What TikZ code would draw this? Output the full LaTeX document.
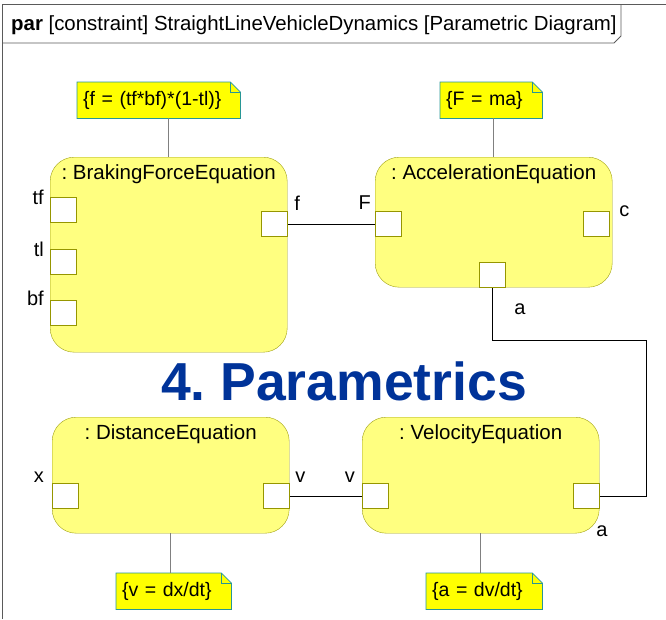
\documentclass[tikz,border=0pt]{standalone}
\usepackage{fontspec}
\setmainfont{Liberation Sans}
\usetikzlibrary{calc}
\frenchspacing
\definecolor{blockfill}{RGB}{255,255,128}
\definecolor{blockdraw}{RGB}{160,160,20}
\definecolor{portdraw}{RGB}{150,150,0}
\definecolor{notefill}{RGB}{255,255,0}
\definecolor{notedraw}{RGB}{40,150,150}
\definecolor{titleblue}{RGB}{0,51,153}
\definecolor{framegray}{RGB}{90,90,90}
\tikzset{
  block/.style = {draw = blockdraw, fill = blockfill, rounded corners = 24pt, anchor = north west, inner sep = 0, minimum width = 237pt},
  blocktitle/.style = {font = \fontsize{20.5}{22}\selectfont, inner sep = 0},
  port/.style = {draw = portdraw, line width = 1.2pt, fill = white, anchor = north west, inner sep = 0, minimum width = 26pt, minimum height = 25pt},
  portname/.style = {font = \fontsize{20}{22}\selectfont, inner sep = 0},
  note/.style = {fill = notefill, anchor = north west, inner xsep = 6pt, inner ysep = 0, minimum height = 36pt, align = left, font = \fontsize{19.5}{21}\selectfont},
  wire/.style = {draw = black, line width = 0.9pt},
  noteline/.style = {draw = gray, line width = 1pt}
}
\newcommand{\noteoutline}[1]{
  \fill [white] ($(#1.north east) + (-10, 0)$) -- (#1.north east) -- ($(#1.north east) + (0, 10)$) -- cycle;
  \draw [notedraw, line width = 0.8pt] (#1.north west) -- ($(#1.north east) + (-10, 0)$) -- ($(#1.north east) + (0, 10)$) -- (#1.south east) -- (#1.south west) -- cycle;
  \draw [notedraw, line width = 0.6pt] ($(#1.north east) + (-10, 0)$) -- ($(#1.north east) + (-10, 10)$) -- ($(#1.north east) + (0, 10)$);
}
\begin{document}
\begin{tikzpicture}[x = 1pt, y = -1pt]
  \useasboundingbox (0, 0) rectangle (666, 619);
  \draw [framegray, line width = 0.9pt] (2, 619) -- (2, 4) -- (666, 4);
  \draw [framegray, line width = 0.9pt] (2, 43) -- (614, 43) -- (621, 36) -- (621, 4);
  \node at (11, 25) [anchor = west, inner sep = 0, font = \fontsize{20.4}{22}\selectfont] (frame-title) {\textbf{par} [constraint] StraightLineVehicleDynamics [Parametric Diagram]};

  \node at (50, 157) [block, minimum height = 195pt] (brake) {};
  \node at ($(brake.north) + (0, 17)$) [blocktitle] (brake-title) {: BrakingForceEquation};
  \node at (50, 197) [port] (brake-tf) {};
  \node at (50, 249) [port] (brake-tl) {};
  \node at (50, 300) [port] (brake-bf) {};
  \node at (261, 211) [port] (brake-f) {};
  \node at ($(brake-tf.north west) + (-6, 0)$) [portname, anchor = east] {tf};
  \node at ($(brake-tl.north west) + (-6, 0)$) [portname, anchor = east] {tl};
  \node at ($(brake-bf.north west) + (-6, -2)$) [portname, anchor = east] {bf};
  \node at ($(brake-f.north east) + (6, -8)$) [portname, anchor = west] {f};

  \node at (375, 157) [block, minimum height = 130pt] (acc) {};
  \node at ($(acc.north) + (0, 17)$) [blocktitle] (acc-title) {: AccelerationEquation};
  \node at (375, 211) [port] (acc-F) {};
  \node at (583, 211) [port] (acc-c) {};
  \node at (479, 262) [port] (acc-a) {};
  \node at ($(acc-F.north west) + (-4, -8)$) [portname, anchor = east] {F};
  \node at ($(acc-c.north east) + (9, 0)$) [portname, anchor = west] {c};
  \node at ($(acc-a.south east) + (8, 21)$) [portname, anchor = west] {a};

  \node at (52, 417) [block, minimum height = 116pt] (dist) {};
  \node at ($(dist.north) + (0, 17)$) [blocktitle] (dist-title) {: DistanceEquation};
  \node at (52, 483) [port] (dist-x) {};
  \node at (263, 483) [port] (dist-v) {};
  \node at ($(dist-x.north west) + (-8, -6)$) [portname, anchor = east] {x};
  \node at ($(dist-v.north east) + (5, -6)$) [portname, anchor = west] {v};

  \node at (362, 417) [block, minimum height = 116pt] (vel) {};
  \node at ($(vel.north) + (0, 17)$) [blocktitle] (vel-title) {: VelocityEquation};
  \node at (362, 483) [port] (vel-v) {};
  \node at (573, 483) [port] (vel-a) {};
  \node at ($(vel-v.north west) + (-7, -6)$) [portname, anchor = east] {v};
  \node at ($(vel-a.south east) + (-4, 22)$) [portname, anchor = west] {a};

  \node at (344, 381) [font = \fontsize{53.5}{57}\selectfont\bfseries, text = titleblue, inner sep = 0] (heading) {4. Parametrics};

  \draw [wire] (brake-f.east) -- (acc-F.west);
  \draw [wire] (dist-v.east) -- (vel-v.west);
  \coordinate (a-turn) at (646, 340);
  \draw [wire] (acc-a.south) |- (a-turn) |- (vel-a.east);

  \node at (77, 82) [note, text width = 151pt] (brake-note) {\{f = (tf*bf)*(1-tl)\}};
  \node at (440, 82) [note, text width = 90pt] (acc-note) {\{F = ma\}};
  \node at (116, 573) [note, text width = 103pt] (dist-note) {\{v = dx/dt\}};
  \node at (426, 573) [note, text width = 104pt] (vel-note) {\{a = dv/dt\}};
  \noteoutline{brake-note}
  \noteoutline{acc-note}
  \noteoutline{dist-note}
  \noteoutline{vel-note}
  \draw [noteline] (brake.north) -- (brake.north |- brake-note.south);
  \draw [noteline] (acc.north) -- (acc.north |- acc-note.south);
  \draw [noteline] (dist.south) -- (dist.south |- dist-note.north);
  \draw [noteline] (vel.south) -- (vel.south |- vel-note.north);
\end{tikzpicture}
\end{document}
